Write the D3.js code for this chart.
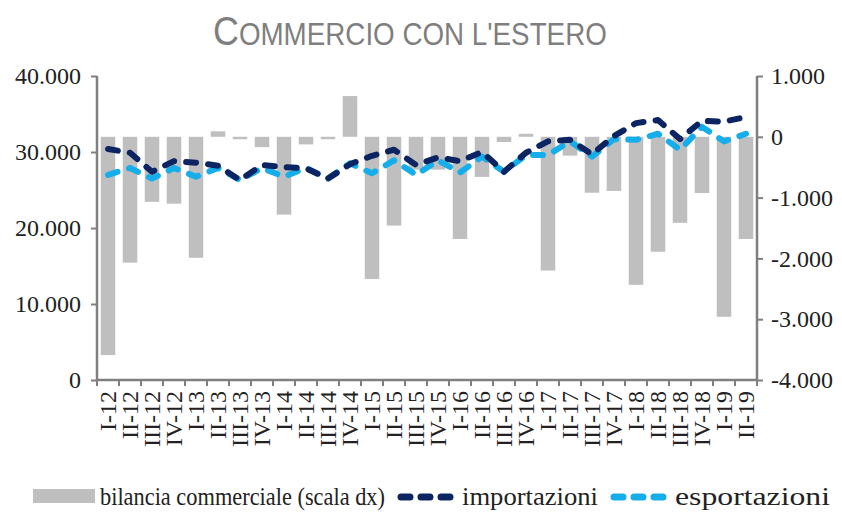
<!DOCTYPE html>
<html>
<head>
<meta charset="utf-8">
<script src="https://cdn.jsdelivr.net/npm/d3@7"></script>
<style>
html,body{margin:0;padding:0;background:#fff;}
svg{display:block;}
</style>
</head>
<body>
<script>
const categories = ["I-12","II-12","III-12","IV-12","I-13","II-13","III-13","IV-13","I-14","II-14","III-14","IV-14","I-15","II-15","III-15","IV-15","I-16","II-16","III-16","IV-16","I-17","II-17","III-17","IV-17","I-18","II-18","III-18","IV-18","I-19","II-19"];
const bilancia = [-3590,-2070,-1070,-1100,-1990,90,-40,-170,-1280,-125,-40,670,-2340,-1460,-540,-540,-1680,-660,-85,50,-2200,-310,-920,-890,-2435,-1890,-1415,-925,-2960,-1680];
const importazioni = [30400,29900,27400,28800,28600,28200,26300,28300,28000,27850,26500,28400,29500,30300,28300,29300,28800,30000,27400,29900,31400,31600,29700,32100,33800,34200,31700,34100,34000,34600];
const esportazioni = [27000,27900,26500,27900,26750,27900,26300,27900,26750,27900,26500,28500,27200,28900,27000,28900,27300,29400,27400,29600,29600,31400,29400,31700,31600,32400,30300,33300,31400,32400];
const leftTicks = [0,10000,20000,30000,40000];
const rightTicks = [-4000,-3000,-2000,-1000,0,1000];
const legendLabels = ["bilancia commerciale (scala dx)","importazioni","esportazioni"];

(function(){
const W = 842, H = 515;
const pL = 97, pR = 757, pT = 76, pB = 380;
const cBar = "#bfbfbf", cImp = "#0c2461", cExp = "#16aeea", cAxis = "#7f7f7f";
const serif = "'Liberation Serif','DejaVu Serif',serif";

const loc = d3.formatLocale({decimal:",", thousands:".", grouping:[3], currency:["€",""], minus:"-"});
const fmt = loc.format(",");

const svg = d3.select("body").append("svg").attr("width",W).attr("height",H);

// Title (small caps: only the first letter is a full capital)
const title = svg.append("text").attr("x",0).attr("y",0)
  .attr("fill","#7f7f7f").attr("font-family","'Liberation Sans Narrow','Liberation Sans',Arial,sans-serif");
title.append("tspan").attr("font-size",40).text("C");
title.append("tspan").attr("font-size",31).text("OMMERCIO CON L'ESTERO");
const tw = title.node().getComputedTextLength();
title.attr("transform",`translate(213,45) scale(${394/tw},1)`);

const x = d3.scaleBand().domain(categories).range([pL,pR]).paddingInner(0.34).paddingOuter(0.17);
const yL = d3.scaleLinear().domain([0,40000]).range([pB,pT]);
const yR = d3.scaleLinear().domain([-4000,1000]).range([pB,pT]);
const cx = d => x(d) + x.bandwidth()/2;

// Bars
svg.append("g").selectAll("rect").data(categories).join("rect")
  .attr("x", d => x(d))
  .attr("width", x.bandwidth())
  .attr("y", (d,i) => yR(Math.max(0,bilancia[i])))
  .attr("height", (d,i) => Math.abs(yR(bilancia[i]) - yR(0)))
  .attr("fill", cBar);

// Lines
const line = arr => d3.line().x((d,i)=>cx(categories[i])).y(d=>yL(d))(arr);
svg.append("path").attr("d", line(esportazioni)).attr("fill","none").attr("stroke",cExp)
  .attr("stroke-width",6).attr("stroke-linecap","round").attr("stroke-linejoin","round").attr("stroke-dasharray","10,12");
svg.append("path").attr("d", line(importazioni)).attr("fill","none").attr("stroke",cImp)
  .attr("stroke-width",6).attr("stroke-linecap","round").attr("stroke-linejoin","round").attr("stroke-dasharray","10,12");

// Left axis
const gL = svg.append("g").attr("transform",`translate(${pL},0)`)
  .call(d3.axisLeft(yL).tickValues(leftTicks).tickFormat(fmt).tickSize(6).tickPadding(10));
// Right axis
const gR = svg.append("g").attr("transform",`translate(${pR},0)`)
  .call(d3.axisRight(yR).tickValues(rightTicks).tickFormat(fmt).tickSize(6).tickPadding(8));
// Bottom axis (labels)
const gB = svg.append("g").attr("transform",`translate(0,${pB})`)
  .call(d3.axisBottom(x).tickSize(0));
gB.selectAll("text").attr("transform","rotate(-90)").attr("x",-11).attr("y",0).attr("dy","0.33em").attr("text-anchor","end");
// boundary ticks
const idx = d3.range(categories.length+1);
gB.selectAll("line.bt").data(idx).join("line").attr("class","bt")
  .attr("x1", i => pL + i*x.step()).attr("x2", i => pL + i*x.step())
  .attr("y1",0).attr("y2",6).attr("stroke",cAxis).attr("stroke-width",2);

[gL,gR,gB].forEach(g=>{
  g.selectAll(".domain").attr("stroke",cAxis).attr("stroke-width",2.5);
  g.selectAll(".tick line").attr("stroke",cAxis).attr("stroke-width",2);
  g.selectAll("text").attr("font-family",serif).attr("font-size",24).attr("fill","#222");
});
gB.select(".domain").attr("d",`M${pL},0H${pR}`);
gL.select(".domain").attr("d",`M0,${pT}V${pB}`);
gR.select(".domain").attr("d",`M0,${pT}V${pB}`);

// Legend
const lg = svg.append("g").attr("font-family",serif).attr("font-size",25).attr("fill","#222");
lg.append("rect").attr("x",33).attr("y",489).attr("width",62).attr("height",14).attr("fill",cBar);
lg.append("text").attr("x",100).attr("y",505).attr("textLength",285).attr("lengthAdjust","spacingAndGlyphs").text(legendLabels[0]);
lg.append("line").attr("x1",401).attr("x2",451).attr("y1",497).attr("y2",497).attr("stroke",cImp)
  .attr("stroke-width",7).attr("stroke-linecap","round").attr("stroke-dasharray","9,11");
lg.append("text").attr("x",462).attr("y",505).attr("textLength",136).attr("lengthAdjust","spacingAndGlyphs").text(legendLabels[1]);
lg.append("line").attr("x1",614).attr("x2",664).attr("y1",497).attr("y2",497).attr("stroke",cExp)
  .attr("stroke-width",7).attr("stroke-linecap","round").attr("stroke-dasharray","9,11");
lg.append("text").attr("x",675).attr("y",505).attr("textLength",155).attr("lengthAdjust","spacingAndGlyphs").text(legendLabels[2]);
})();
</script>
</body>
</html>
